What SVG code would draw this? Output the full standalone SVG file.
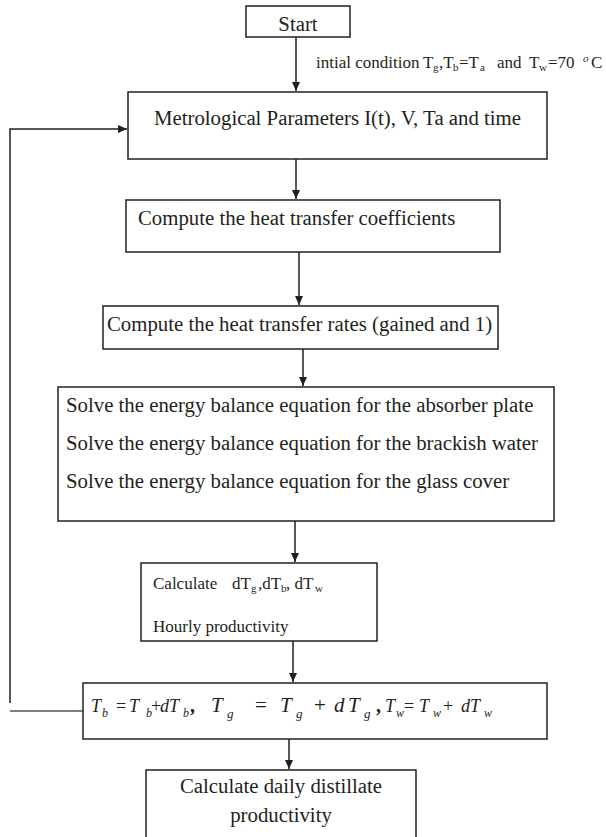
<svg xmlns="http://www.w3.org/2000/svg" width="606" height="837" viewBox="0 0 606 837">
<style>
.box{fill:#fff;stroke:#231f20;stroke-width:1.5}
text{font-family:"Liberation Serif","Times New Roman",serif;fill:#231f20}
.t{font-size:20.8px}
.s{font-size:17px}
.ss{font-size:11px}
.m{font-size:17px}
.ms{font-size:11px}
.eq{font-size:18px;font-style:italic}
.eqL{font-size:21px;font-style:italic}
.eqs{font-size:12px;font-style:italic}
.eqsL{font-size:13px;font-style:italic}
.op{font-size:18px}
.opL{font-size:21px}
.cm{font-size:20px;font-weight:bold}
.c{fill:none;stroke:#231f20;stroke-width:1.5}
</style>
<defs>
<marker id="ah" markerUnits="userSpaceOnUse" markerWidth="10" markerHeight="8" refX="9" refY="4" orient="auto">
<path d="M0,0 L9,4 L0,8 z" fill="#231f20"/>
</marker>
</defs>
<g id="connectors">
<line class="c" x1="296" y1="37" x2="296" y2="91" marker-end="url(#ah)"/>
<line class="c" x1="296" y1="159" x2="296" y2="199" marker-end="url(#ah)"/>
<line class="c" x1="299" y1="252" x2="299" y2="305" marker-end="url(#ah)"/>
<line class="c" x1="303" y1="349" x2="303" y2="386" marker-end="url(#ah)"/>
<line class="c" x1="295" y1="521" x2="295" y2="562" marker-end="url(#ah)"/>
<line class="c" x1="293" y1="641" x2="293" y2="682" marker-end="url(#ah)"/>
<line class="c" x1="289" y1="733" x2="289" y2="769" marker-end="url(#ah)"/>
<polyline class="c" points="10,703 10,129 127,129" marker-end="url(#ah)"/>
<line x1="10" y1="711" x2="83" y2="711" stroke="#555" stroke-width="1.5"/>
</g>
<g id="start">
<rect class="box" x="246" y="6" width="104" height="31"/>
<text class="t" x="298" y="31" text-anchor="middle">Start</text>
</g>
<g id="init-label">
<text class="s" x="316" y="68">intial condition</text>
<text class="s" x="423" y="68">T</text><text class="ss" x="433" y="71">g</text>
<text class="s" x="439" y="68">,T</text><text class="ss" x="453" y="71">b</text>
<text class="s" x="459" y="68">=T</text><text class="ss" x="480" y="71">a</text>
<text class="s" x="497" y="68">and</text>
<text class="s" x="529" y="68">T</text><text class="ss" x="539" y="71">w</text>
<text class="s" x="548" y="68">=70</text>
<text class="ss" x="583" y="62" font-style="italic">o</text>
<text class="s" x="591" y="68">C</text>
</g>
<g id="meteo">
<rect class="box" x="128" y="92" width="419" height="67"/>
<text class="t" x="337.5" y="125" text-anchor="middle">Metrological Parameters I(t), V, Ta and time</text>
</g>
<g id="coef">
<rect class="box" x="126" y="200" width="374" height="52"/>
<text class="t" x="138" y="225">Compute the heat transfer coefficients</text>
</g>
<g id="rates">
<rect class="box" x="103" y="306" width="395" height="43"/>
<text class="t" x="107" y="331">Compute the heat transfer rates (gained and 1)</text>
</g>
<g id="energy">
<rect class="box" x="58" y="387" width="496" height="134"/>
<text class="t" x="66" y="412">Solve the energy balance equation for the absorber plate</text>
<text class="t" x="66" y="450">Solve the energy balance equation for the brackish water</text>
<text class="t" x="66" y="488">Solve the energy balance equation for the glass cover</text>
</g>
<g id="calc">
<rect class="box" x="141" y="563" width="236" height="78"/>
<text class="m" x="153" y="589">Calculate</text>
<text class="m" x="232" y="589">dT</text><text class="ms" x="251" y="592">g</text>
<text class="m" x="258" y="589">,dT</text><text class="ms" x="281" y="592">b</text>
<text class="m" x="286" y="589">, dT</text><text class="ms" x="315" y="592">w</text>
<text class="m" x="153" y="632">Hourly productivity</text>
</g>
<g id="update">
<rect class="box" x="83" y="683" width="464" height="56"/>
<text class="eq" x="91" y="712">T</text><text class="eqs" x="102" y="717">b</text>
<text class="op" x="116" y="712">=</text>
<text class="eq" x="129" y="712">T</text><text class="eqs" x="146" y="717">b</text>
<text class="op" x="151" y="712">+</text><text class="eq" x="160" y="712">dT</text><text class="eqs" x="183" y="717">b</text>
<text class="cm" x="190" y="712">,</text>
<text class="eqL" x="211" y="712">T</text><text class="eqsL" x="227" y="718">g</text>
<text class="opL" x="255" y="712">=</text>
<text class="eqL" x="280" y="712">T</text><text class="eqsL" x="296" y="718">g</text>
<text class="opL" x="314" y="712">+</text>
<text class="eqL" x="334" y="712" font-size="24">d</text><text class="eqL" x="348" y="712">T</text><text class="eqsL" x="364" y="718">g</text>
<text class="cm" x="376" y="712">,</text>
<text class="eq" x="385" y="712">T</text><text class="eqs" x="396" y="717">w</text>
<text class="op" x="404" y="712">=</text>
<text class="eq" x="419" y="712">T</text><text class="eqs" x="433" y="717">w</text>
<text class="op" x="443" y="712">+</text>
<text class="eq" x="461" y="712">dT</text><text class="eqs" x="484" y="717">w</text>
</g>
<g id="daily">
<rect class="box" x="146" y="770" width="270" height="80"/>
<text class="t" x="281" y="793" text-anchor="middle">Calculate daily distillate</text>
<text class="t" x="281" y="822" text-anchor="middle">productivity</text>
</g>
</svg>
